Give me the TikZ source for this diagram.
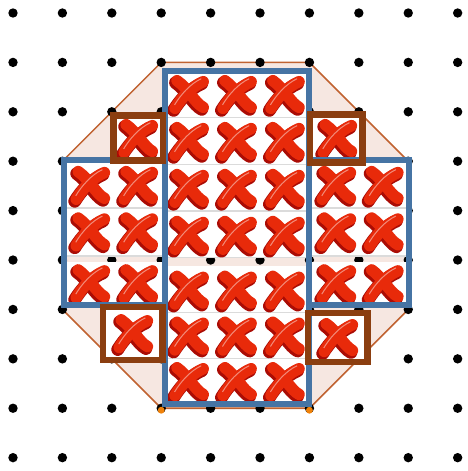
\documentclass[tikz,border=0pt]{standalone}
\usepackage{tikz}
\definecolor{octfill}{RGB}{246,231,225}
\definecolor{octline}{RGB}{192,98,48}
\definecolor{steelblue}{RGB}{70,116,164}
\definecolor{rustbrown}{RGB}{139,62,16}
\definecolor{xred}{RGB}{232,42,10}
\definecolor{xdark}{RGB}{170,12,5}
\definecolor{dotorange}{RGB}{240,130,10}

\begin{document}
\begin{tikzpicture}[
  y=-1cm,
  oct/.style={draw=octline, fill=octfill, line width=0.9pt},
  gridpt/.style={fill=black},
  tile/.style={fill=white},
  seam/.style={draw=black!14, line width=0.8pt},
  bluebox/.style={draw=steelblue, line width=3.6pt},
  brownbox/.style={draw=rustbrown, line width=3.8pt},
  xm/.pic={
    \foreach \dx/\dy/\c/\w in {-0.03/0.04/xdark/7.4pt, 0/0/xred/6.6pt} {
      \draw[\c, line width=\w, line cap=round, shift={(\dx,\dy)}]
        (-0.24,-0.27) .. controls (-0.02,-0.12) and (0.12,0.18) .. (0.29,0.27);
      \draw[\c, line width=\w, line cap=round, shift={(\dx,\dy)}]
        (0.29,-0.25) .. controls (0.05,-0.15) and (-0.15,0.08) .. (-0.28,0.29);
    }
    \draw[xred!55!white, line width=0.6pt]
      (0.25,-0.31) .. controls (0.03,-0.21) and (-0.17,0.02) .. (-0.29,0.22);
  }
]
\useasboundingbox (-0.263,-0.263) rectangle (9.19,9.27);

% octagon behind everything
\filldraw[oct] (3,1) -- (6,1) -- (8,3) -- (8,6) -- (6,8) -- (3,8) -- (1,6) -- (1,3) -- cycle;

% dot grid
\foreach \i in {0,...,9}
  \foreach \j in {0,...,9}
    \fill[gridpt] (\i,\j) circle (0.095);
\fill[dotorange] (3,8.04) circle (0.07);
\fill[dotorange] (6,8.04) circle (0.07);

% white tiles under the marks
\fill[tile] (3.08,1.17) rectangle (5.99,4.96);
\fill[tile] (3.08,5.13) rectangle (5.99,7.91);
\fill[tile] (1.03,2.98) rectangle (3.08,4.93);
\fill[tile] (1.03,5.04) rectangle (3.08,5.91);
\fill[tile] (5.99,2.98) rectangle (8.02,4.93);
\fill[tile] (5.99,5.04) rectangle (8.02,5.91);
\fill[tile] (2.04,2.08) rectangle (3.04,2.99);
\fill[tile] (6.01,2.06) rectangle (7.08,3.02);
\fill[tile] (1.82,5.95) rectangle (3.02,7.02);
\fill[tile] (5.97,6.07) rectangle (7.17,7.06);
\foreach \y in {2.12,3.07,4.01,4.95,6.06,6.99}
  \draw[seam] (3.12,\y) -- (5.95,\y);
\foreach \y in {3.95,4.92}
  \draw[seam] (1.07,\y) -- (3.04,\y) (6.03,\y) -- (7.98,\y);

% marks
\foreach \y in {1.64,2.59,3.54,4.49,5.60,6.53,7.45}
  \foreach \x in {3.56,4.53,5.50}
    \pic at (\x,\y) {xm};
\foreach \y in {3.48,4.42,5.47}
  \foreach \x in {1.56,2.53,6.54,7.50}
    \pic at (\x,\y) {xm};
\foreach \x/\y in {2.53/2.53, 6.56/2.53, 2.43/6.48, 6.58/6.56}
  \pic at (\x,\y) {xm};

% blue cross
\draw[bluebox] (3.08,1.17) rectangle (5.99,7.91);
\draw[bluebox] (1.03,2.98) rectangle (3.08,5.91);
\draw[bluebox] (5.99,2.98) rectangle (8.02,5.91);

% brown squares
\draw[brownbox] (2.04,2.08) rectangle (3.04,2.99);
\draw[brownbox] (6.01,2.06) rectangle (7.08,3.02);
\draw[brownbox] (1.82,5.95) rectangle (3.02,7.02);
\draw[brownbox] (5.97,6.07) rectangle (7.17,7.06);
\end{tikzpicture}
\end{document}
